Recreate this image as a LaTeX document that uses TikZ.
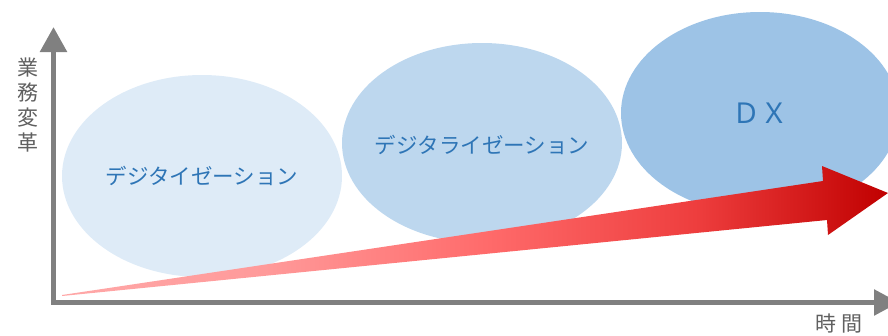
\documentclass[tikz,border=0pt]{standalone}
\usepackage{fontspec}
\newfontfamily\cjk{Noto Sans CJK JP}
\usetikzlibrary{shapes.geometric,arrows.meta}
\definecolor{ellA}{HTML}{DEEBF7}
\definecolor{ellB}{HTML}{BDD7EE}
\definecolor{ellC}{HTML}{9DC3E6}
\definecolor{txtblue}{HTML}{2E75B6}
\definecolor{axisgray}{HTML}{808080}
\definecolor{labgray}{HTML}{606060}
\definecolor{rgA}{HTML}{FFA8A8}
\definecolor{rgB}{HTML}{FF9A9A}
\definecolor{rgC}{HTML}{FF6B6B}
\definecolor{rgD}{HTML}{EE3E3E}
\definecolor{rgE}{HTML}{C00000}
\pgfdeclarehorizontalshading{redgrad}{100bp}{color(0bp)=(rgA); color(25bp)=(rgA); color(37.3bp)=(rgB); color(50.6bp)=(rgC); color(63.3bp)=(rgD); color(75bp)=(rgE); color(100bp)=(rgE)}
\begin{document}
\begin{tikzpicture}[x=1pt,y=-1pt,
  blob/.style={ellipse, inner sep=0pt},
  blobtext/.style={inner sep=0pt, text=txtblue, font=\cjk\fontsize{21.5}{26}\selectfont},
  axislabel/.style={inner sep=0pt, text=labgray, font=\cjk\fontsize{21}{25.3}\selectfont, align=center},
  axisline/.style={draw=axisgray, line width=5.5pt, line join=miter, {Triangle[length=25pt,width=26pt]}-{Triangle[length=25pt,width=25pt]}}]
\useasboundingbox (0,0) rectangle (888,335);
\clip (0,0) rectangle (888,335);
% ellipses
\node[blob, fill=ellA, minimum width=280pt, minimum height=202pt] (digitization) at (202,176) {};
\node[blob, fill=ellB, minimum width=280pt, minimum height=200pt] (digitalization) at (482,143) {};
\node[blob, fill=ellC, minimum width=278pt, minimum height=202pt] (dx) at (760,113) {};
\node[blobtext] (t1) at (digitization.center) {デジタイゼーション};
\node[blobtext] (t2) at ([yshift=-2pt]digitalization.center) {デジタライゼーション};
\node[blobtext, font=\cjk\fontsize{28}{32}\selectfont] (t3) at (dx.center) {ＤＸ};
% red arrow
\shade[shading=redgrad] (62,295) -- (823,181) -- (822,166) -- (888,193) -- (828,235) -- (827,220) -- (62,296) -- cycle;
% axes
\coordinate (ytip) at (53.5,27);
\coordinate (origin) at (53.5,302.5);
\coordinate (xtip) at (899,302.5);
\draw[axisline] (ytip) -- (origin) -- (xtip);
% labels
\node[axislabel] (ylabel) at (27.5,105) {業\\務\\変\\革};
\node[axislabel] (xlabel) at (839,324) {時\kern6pt 間};
\end{tikzpicture}
\end{document}
